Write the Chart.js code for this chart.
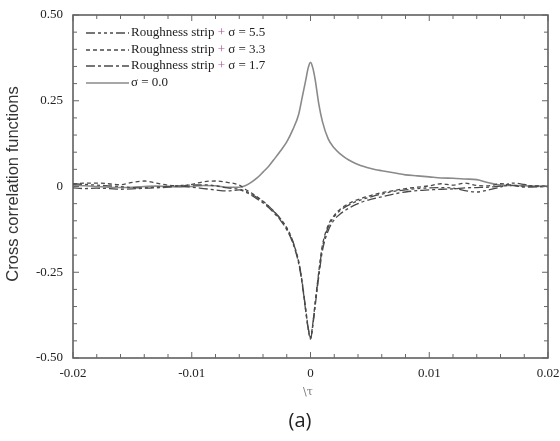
<!DOCTYPE html>
<html>
<head>
<meta charset="utf-8">
<script src="https://cdn.jsdelivr.net/npm/chart.js@4/dist/chart.umd.min.js"></script>
<style>
  html, body { margin: 0; padding: 0; background: #fff; }
  #wrap { width: 560px; height: 441px; }
</style>
</head>
<body>
<div id="wrap"><canvas id="chart" width="560" height="441"></canvas></div>
<script>
// time lag axis (shared by all curves)
const tau = [
  -0.020, -0.019, -0.018, -0.017, -0.016, -0.015, -0.014, -0.013, -0.012, -0.011,
  -0.010, -0.009, -0.008, -0.007, -0.006,
  -0.0055, -0.005, -0.0045, -0.004, -0.0035, -0.003, -0.0025, -0.002, -0.0015,
  -0.001, -0.0007, -0.0004, -0.0002, 0, 0.0002, 0.0004, 0.0007, 0.001,
  0.0015, 0.002, 0.0025, 0.003, 0.0035, 0.004, 0.0045, 0.005, 0.0055,
  0.006, 0.007, 0.008, 0.009, 0.010, 0.011, 0.012, 0.013, 0.014, 0.015,
  0.016, 0.017, 0.018, 0.019, 0.020
];

const sigma55 = [
  0.008, 0.006, 0.004, 0.002, 0.000, -0.003, -0.004, -0.002, 0.000, 0.003,
  0.004, 0.005, 0.002, -0.004, -0.008,
  -0.013, -0.022, -0.032, -0.044, -0.058, -0.075, -0.095, -0.120, -0.158,
  -0.218, -0.278, -0.358, -0.410, -0.443, -0.400, -0.340, -0.252, -0.178,
  -0.118, -0.088, -0.070, -0.058, -0.049, -0.042, -0.036, -0.031, -0.026,
  -0.022, -0.014, -0.010, -0.006, -0.004, -0.003, -0.005, -0.012, -0.016, -0.010,
  -0.002, 0.010, 0.006, 0.000, 0.000
];

const sigma33 = [
  0.006, 0.010, 0.010, 0.008, 0.005, 0.012, 0.016, 0.010, 0.004, 0.002,
  0.006, 0.014, 0.016, 0.012, 0.004,
  -0.008, -0.018, -0.030, -0.043, -0.058, -0.076, -0.097, -0.122, -0.160,
  -0.220, -0.282, -0.362, -0.412, -0.440, -0.398, -0.336, -0.248, -0.172,
  -0.112, -0.084, -0.066, -0.054, -0.045, -0.038, -0.032, -0.027, -0.022,
  -0.018, -0.012, -0.006, -0.002, 0.002, 0.008, 0.004, 0.010, 0.003, 0.002,
  0.008, 0.004, 0.001, 0.002, 0.000
];

const sigma17 = [
  -0.004, -0.006, -0.005, -0.006, -0.008, -0.007, -0.005, -0.004, -0.002, 0.001,
  -0.002, -0.006, -0.010, -0.013, -0.010,
  -0.016, -0.025, -0.036, -0.048, -0.062, -0.080, -0.100, -0.126, -0.164,
  -0.224, -0.284, -0.364, -0.414, -0.445, -0.404, -0.346, -0.262, -0.188,
  -0.128, -0.097, -0.080, -0.068, -0.058, -0.050, -0.043, -0.038, -0.034,
  -0.030, -0.022, -0.016, -0.012, -0.010, -0.008, -0.007, -0.004, -0.003, -0.002,
  0.001, 0.003, -0.002, -0.001, 0.000
];

const sigma00 = [
  0.003, 0.002, 0.000, -0.002, -0.003, -0.002, 0.000, 0.001, 0.000, -0.001,
  0.000, 0.003, 0.002, -0.002, -0.002,
  0.002, 0.012, 0.025, 0.042, 0.060, 0.082, 0.105, 0.130, 0.165,
  0.210, 0.260, 0.310, 0.345, 0.362, 0.345, 0.310, 0.240, 0.190,
  0.138, 0.112, 0.095, 0.082, 0.072, 0.064, 0.058, 0.053, 0.049,
  0.046, 0.040, 0.034, 0.031, 0.028, 0.025, 0.024, 0.022, 0.020, 0.011,
  0.004, 0.003, 0.002, 0.001, 0.001
];

const seriesLabels = ['Roughness strip + \u03c3 = 5.5', 'Roughness strip + \u03c3 = 3.3',
                      'Roughness strip + \u03c3 = 1.7', '\u03c3 = 0.0'];
const xTickLabels = { '-20': '-0.02', '-10': '-0.01', '0': '0', '10': '0.01', '20': '0.02' };
const yTickLabels = { '50': '0.50', '25': '0.25', '0': '0', '-25': '-0.25', '-50': '-0.50' };

const toPts = (vals) => tau.map((t, i) => ({ x: t, y: vals[i] }));

const dashes = [[9, 3, 3, 3, 3, 3, 3, 3], [4, 3], [9, 3, 3, 3], []];
const colors = ['#4a4a4a', '#4a4a4a', '#4a4a4a', '#8a8a8a'];

const datasets = [sigma55, sigma33, sigma17, sigma00].map((vals, i) => ({
  label: seriesLabels[i],
  data: toPts(vals),
  borderColor: colors[i],
  borderWidth: i === 3 ? 1.6 : 1.3,
  borderDash: dashes[i],
  pointRadius: 0,
  fill: false,
  cubicInterpolationMode: 'monotone',
}));

// frame, inward ticks, legend and extra text
const decor = {
  id: 'decor',
  afterDraw(chart) {
    const { ctx, chartArea: a, scales } = chart;
    const xs = scales.x;
    const ys = scales.y;
    ctx.save();
    ctx.strokeStyle = '#555';
    ctx.lineWidth = 1.5;
    ctx.setLineDash([]);
    ctx.strokeRect(a.left, a.top, a.right - a.left, a.bottom - a.top);

    ctx.lineWidth = 1;
    ctx.strokeStyle = '#666';
    for (let k = -20; k <= 20; k += 2) {
      const px = xs.getPixelForValue(k / 1000);
      const len = k % 10 === 0 ? 6 : 4;
      ctx.beginPath();
      ctx.moveTo(px, a.bottom); ctx.lineTo(px, a.bottom - len);
      ctx.moveTo(px, a.top); ctx.lineTo(px, a.top + len);
      ctx.stroke();
    }
    for (let k = -50; k <= 50; k += 5) {
      const py = ys.getPixelForValue(k / 100);
      const len = k % 25 === 0 ? 6 : 4;
      ctx.beginPath();
      ctx.moveTo(a.left, py); ctx.lineTo(a.left + len, py);
      ctx.moveTo(a.right, py); ctx.lineTo(a.right - len, py);
      ctx.stroke();
    }

    // legend
    ctx.font = '13px "Liberation Serif"';
    ctx.textBaseline = 'middle';
    const rowsY = [33, 50, 66, 83];
    datasets.forEach((ds, i) => {
      const y = rowsY[i];
      ctx.strokeStyle = ds.borderColor;
      ctx.lineWidth = ds.borderWidth;
      ctx.setLineDash(ds.borderDash);
      ctx.beginPath();
      ctx.moveTo(86, y); ctx.lineTo(129, y);
      ctx.stroke();
      ctx.setLineDash([]);
      ctx.fillStyle = '#222';
      ctx.textAlign = 'left';
      let x = 131;
      const lbl = ds.label;
      const plus = lbl.indexOf('+');
      if (plus >= 0) {
        const pre = lbl.slice(0, plus);
        ctx.fillText(pre, x, y);
        x += ctx.measureText(pre).width;
        ctx.fillStyle = '#b0509a';
        ctx.fillText('+', x, y);
        x += ctx.measureText('+').width;
        ctx.fillStyle = '#222';
        ctx.fillText(lbl.slice(plus + 1), x, y);
      } else {
        ctx.fillText(lbl, x, y);
      }
    });

    // axis titles and caption
    ctx.fillStyle = '#777';
    ctx.textAlign = 'center';
    ctx.font = '11px "DejaVu Serif"';
    ctx.fillText('\\\u03c4', 308, 392);
    ctx.fillStyle = '#222';
    ctx.font = '20px "Open Sans"';
    ctx.fillText('(a)', 300, 421);

    ctx.save();
    ctx.translate(13, 184);
    ctx.rotate(-Math.PI / 2);
    ctx.fillStyle = '#333';
    ctx.font = '16.5px "Liberation Sans"';
    ctx.fillText('Cross correlation functions', 0, 0);
    ctx.restore();
    ctx.restore();
  },
};

new Chart(document.getElementById('chart').getContext('2d'), {
  type: 'line',
  data: { datasets },
  options: {
    responsive: false,
    animation: false,
    layout: { padding: { left: 0, top: 15, right: 12, bottom: 0 } },
    plugins: { legend: { display: false }, tooltip: { enabled: false } },
    scales: {
      x: {
        type: 'linear',
        min: -0.02,
        max: 0.02,
        grid: { display: false, drawTicks: false },
        border: { display: false },
        afterFit: (s) => { s.height = 83; s.paddingLeft = 0; s.paddingRight = 0; },
        ticks: {
          stepSize: 0.002,
          autoSkip: false,
          maxRotation: 0,
          padding: 8,
          color: '#222',
          font: { family: 'Liberation Serif', size: 13 },
          callback: (v) => xTickLabels[String(Math.round(v * 1000))] || '',
        },
      },
      y: {
        min: -0.5,
        max: 0.5,
        grid: { display: false, drawTicks: false },
        border: { display: false },
        afterFit: (s) => { s.width = 73; s.paddingTop = 0; s.paddingBottom = 0; },
        ticks: {
          stepSize: 0.05,
          autoSkip: false,
          padding: 10,
          color: '#222',
          font: { family: 'Liberation Serif', size: 13 },
          callback: (v) => yTickLabels[String(Math.round(v * 100))] || '',
        },
      },
    },
  },
  plugins: [decor],
});
</script>
</body>
</html>
